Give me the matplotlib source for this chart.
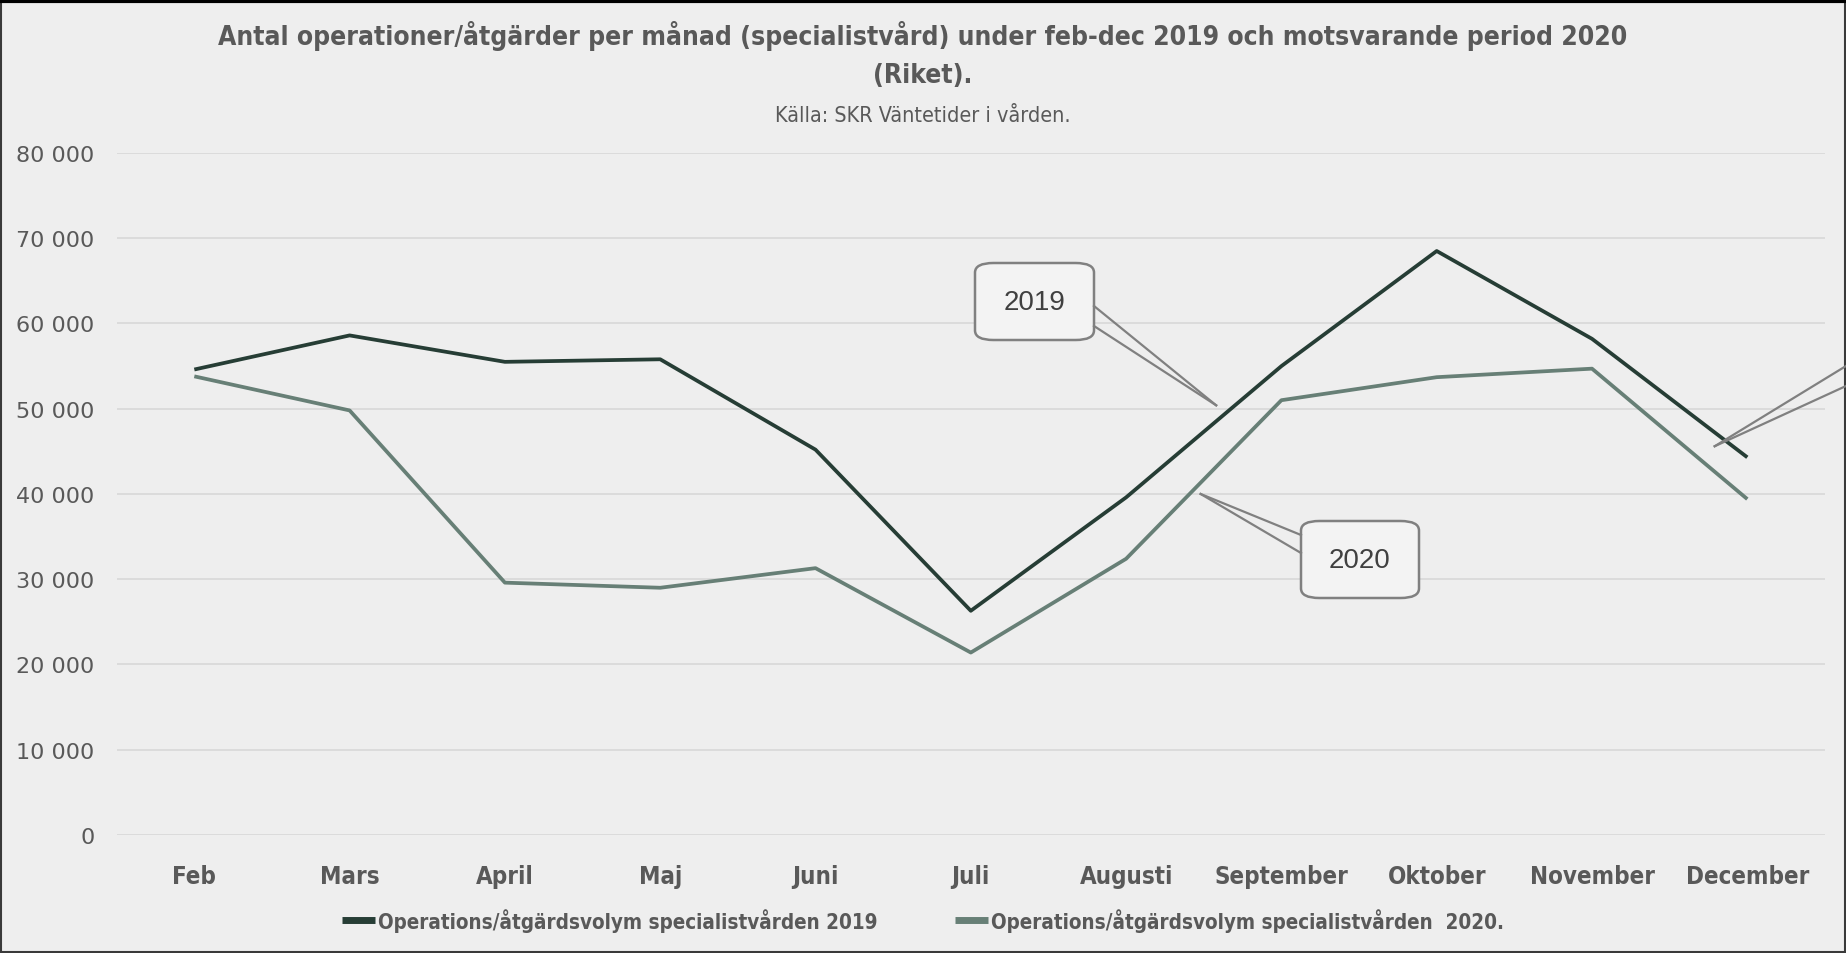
"""Antal operationer/åtgärder per månad, 2019 vs 2020."""

import matplotlib.pyplot as plt
from matplotlib.patches import FancyBboxPatch, Rectangle
from matplotlib.ticker import FuncFormatter

months = ["Feb", "Mars", "April", "Maj", "Juni", "Juli", "Augusti",
          "September", "Oktober", "November", "December"]
vol_2019 = [54600, 58600, 55500, 55800, 45200, 26300, 39600, 55000, 68500, 58200, 44300]
vol_2020 = [53800, 49800, 29600, 29000, 31300, 21400, 32400, 51000, 53700, 54700, 39400]
yticks = [0, 10000, 20000, 30000, 40000, 50000, 60000, 70000, 80000]

label_2019 = "Operations/åtgärdsvolym specialistvården 2019"
label_2020 = "Operations/åtgärdsvolym specialistvården  2020."
title = ("Antal operationer/åtgärder per månad (specialistvård) under feb-dec 2019 "
         "och motsvarande period 2020\n(Riket).")
subtitle = "Källa: SKR Väntetider i vården."

BG = "#eeeeee"
TXT = "#595959"
C19 = "#263d35"
C20 = "#677f76"
NARROW = ["DejaVu Sans"]

fig = plt.figure(figsize=(18.46, 9.54), dpi=100, facecolor=BG)
ax = fig.add_axes([0.0632, 0.1237, 0.9254, 0.7149], facecolor=BG)

x = list(range(len(months)))
ax.plot(x, vol_2019, color=C19, lw=2.7, label=label_2019, solid_capstyle="butt")
ax.plot(x, vol_2020, color=C20, lw=2.7, label=label_2020, solid_capstyle="butt")

ax.set_xlim(-0.5, len(months) - 0.5)
ax.set_ylim(0, 80000)
ax.set_yticks(yticks)
ax.yaxis.set_major_formatter(FuncFormatter(lambda v, p: f"{int(v):,}".replace(",", " ")))
ax.set_xticks(x)
ax.set_xticklabels(months, fontsize=17.3, fontweight="bold", color=TXT,
                   family=NARROW, stretch="condensed")
for lab in ax.get_yticklabels():
    lab.set_fontsize(16)
    lab.set_color(TXT)
    lab.set_family(["DejaVu Sans"])
ax.tick_params(axis="y", length=0, pad=16)
ax.tick_params(axis="x", length=0, pad=21)
ax.grid(axis="y", color="#d9d9d9", lw=1.3)
ax.set_axisbelow(True)
for s in ax.spines.values():
    s.set_visible(False)

fig.text(0.5, 0.978, title, ha="center", va="top", fontsize=19, fontweight="bold",
         color=TXT, family=NARROW, stretch="condensed", linespacing=1.62)
fig.text(0.5, 0.878, subtitle, ha="center", va="center", fontsize=15.5,
         color=TXT, family=NARROW, stretch="condensed")

leg = fig.legend(loc="center", bbox_to_anchor=(0.5, 0.035), ncol=2, frameon=False,
                 prop={"family": NARROW, "weight": "bold", "size": 14.8, "stretch": "condensed"},
                 labelcolor=TXT, handlelength=1.6, handletextpad=0.15, columnspacing=3.8)
for h in leg.get_lines():
    h.set_linewidth(5)


def callout(text, box, tip, base):
    # box: (x0, y0, w, h) in figure pixels; tip in data coords; base: two figure-pixel points
    x0, y0, w, h = box
    H = 954.0
    W = 1846.0
    patch = FancyBboxPatch((x0 / W, 1 - (y0 + h) / H), w / W, h / H,
                           boxstyle="round,pad=0,rounding_size=0.01",
                           transform=fig.transFigure, facecolor="#f3f3f3",
                           edgecolor="#808080", lw=1.8, zorder=5)
    fig.add_artist(patch)
    fig.text((x0 + w / 2) / W, 1 - (y0 + h / 2) / H, text, ha="center", va="center",
             fontsize=20, color="#404040", family=["Liberation Sans", "DejaVu Sans"],
             zorder=6)
    tx, ty = fig.transFigure.inverted().transform(ax.transData.transform(tip))
    for bx, by in base:
        fig.add_artist(plt.Line2D([bx / W, tx], [1 - by / H, ty], color="#808080",
                                  lw=1.6, transform=fig.transFigure, zorder=5))


callout("2019", (975, 264, 119, 77), (6.58, 50400), [(1094, 307), (1094, 327)])
callout("2020", (1301, 522, 118, 77), (6.48, 40000), [(1301, 536), (1301, 554)])
# pointer of a callout whose box lies outside the chart
callout_tip = fig.transFigure.inverted().transform(ax.transData.transform((9.79, 45600)))
for by in (367, 387):
    fig.add_artist(plt.Line2D([callout_tip[0], 1.0], [callout_tip[1], 1 - by / 954],
                              color="#808080", lw=1.6, transform=fig.transFigure, zorder=5))

fig.add_artist(Rectangle((0.0005, 0.001), 0.999, 0.997, transform=fig.transFigure,
                         fill=False, edgecolor="#3a3a3a", lw=1.5))
fig.add_artist(plt.Line2D([0, 1], [0.998, 0.998], color="black", lw=3,
                          transform=fig.transFigure))

fig.savefig("out.png", dpi=100, facecolor=BG)
